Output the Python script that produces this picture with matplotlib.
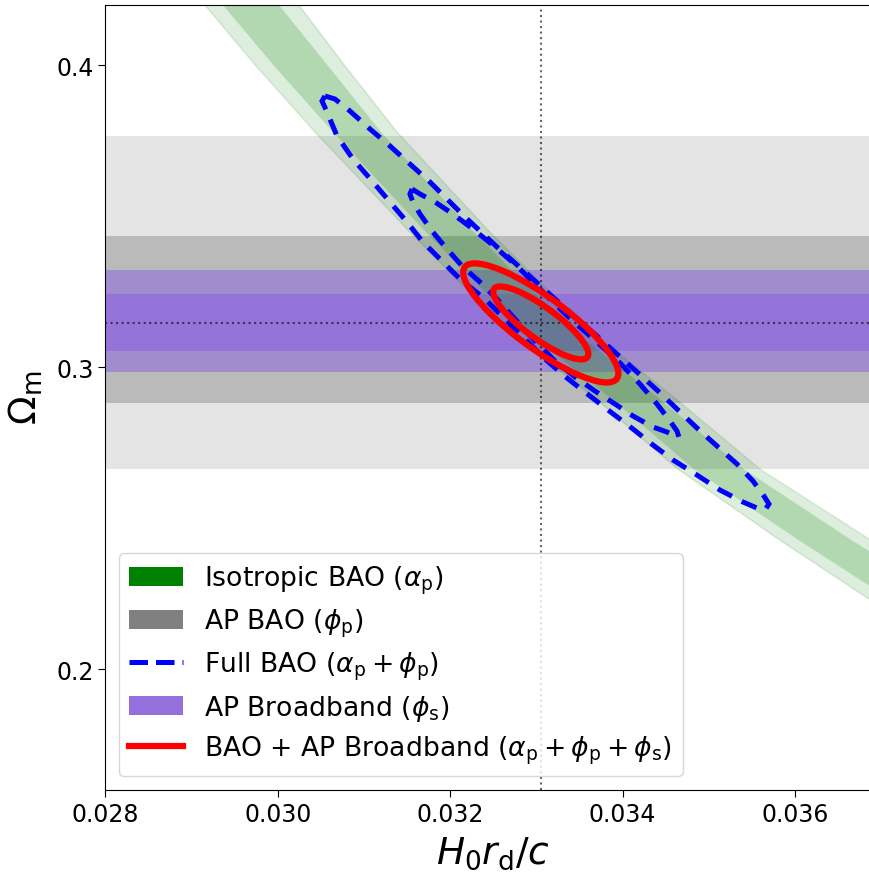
import numpy as np
import matplotlib
matplotlib.use("Agg")
import matplotlib.pyplot as plt
import matplotlib.transforms as transforms
from matplotlib.patches import Ellipse, Patch, Polygon
from matplotlib.lines import Line2D
from matplotlib.ticker import MultipleLocator

# fiducial cosmology
h0rd_fid = 0.03305
om_fid = 0.3146

# AP BAO (phi_p) and AP broadband (phi_s) constraints on Omega_m: (1 sigma, 2 sigma) ranges
ap_bao_1s = (0.2881, 0.3434)
ap_bao_2s = (0.2662, 0.3765)
ap_bb_1s = (0.3053, 0.3242)
ap_bb_2s = (0.2983, 0.3321)

# isotropic BAO degeneracy band, edges in H0 rd / c at given Omega_m
iso_om = [0.4318, 0.4202, 0.3997, 0.3778, 0.3457, 0.3146, 0.2894, 0.2662, 0.2431, 0.2232]
iso_2s_lo = [0.028818, 0.029143, 0.029746, 0.030430, 0.031498, 0.032577, 0.033690, 0.034642, 0.035802, 0.036857]
iso_1s_lo = [0.029038, 0.029352, 0.029955, 0.030639, 0.031683, 0.032762, 0.033876, 0.034827, 0.036022, 0.037101]
iso_1s_hi = [0.029700, 0.030001, 0.030581, 0.031196, 0.032240, 0.033319, 0.034433, 0.035407, 0.036637, 0.037739]
iso_2s_hi = [0.029920, 0.030233, 0.030778, 0.031382, 0.032426, 0.033505, 0.034618, 0.035593, 0.036857, 0.037971]

# full BAO contours (alpha_p + phi_p)
full_2s_x = [0.030546, 0.030662, 0.030836, 0.031068, 0.031300, 0.031532, 0.031764, 0.031962, 0.032147,
             0.032345, 0.032542, 0.032751, 0.032983, 0.033215, 0.033447, 0.033702, 0.033934, 0.034166,
             0.034398, 0.034630, 0.034862, 0.035094, 0.035326, 0.035512, 0.035639, 0.035697, 0.035651,
             0.035558, 0.035396, 0.035129, 0.034862, 0.034584, 0.034352, 0.034120, 0.033876, 0.033621,
             0.033354, 0.033099, 0.032867, 0.032635, 0.032403, 0.032113, 0.031915, 0.031683, 0.031498,
             0.031300, 0.031103, 0.030871, 0.030686, 0.030570, 0.030512]
full_2s_y = [0.38974, 0.38874, 0.38477, 0.37881, 0.37318, 0.36722, 0.36126, 0.35563, 0.35033,
             0.34503, 0.33974, 0.33444, 0.32848, 0.32252, 0.31656, 0.31026, 0.30430, 0.29834,
             0.29238, 0.28609, 0.27980, 0.27384, 0.26788, 0.26225, 0.25728, 0.25464, 0.25265,
             0.25331, 0.25530, 0.25927, 0.26424, 0.26921, 0.27417, 0.27947, 0.28477, 0.29040,
             0.29636, 0.30265, 0.30927, 0.31589, 0.32252, 0.32914, 0.33477, 0.34139, 0.34801,
             0.35464, 0.36126, 0.36887, 0.37649, 0.38444, 0.38808]
full_1s_x = [0.031556, 0.031649, 0.031823, 0.032031, 0.032263, 0.032519, 0.032774, 0.032983, 0.033191,
             0.033423, 0.033702, 0.033969, 0.034201, 0.034398, 0.034549, 0.034630, 0.034653,
             0.034607, 0.034514, 0.034352, 0.034120, 0.033911, 0.033679, 0.033447, 0.033215,
             0.032983, 0.032751, 0.032542, 0.032345, 0.032147, 0.031962, 0.031788, 0.031649,
             0.031567, 0.031532]
full_1s_y = [0.35894, 0.35728, 0.35464, 0.35066, 0.34570, 0.33974, 0.33344, 0.32748, 0.32152,
             0.31523, 0.30828, 0.30132, 0.29437, 0.28775, 0.28212, 0.27881, 0.27682,
             0.27715, 0.27848, 0.28013, 0.28377, 0.28775, 0.29205, 0.29669, 0.30199,
             0.30861, 0.31589, 0.32252, 0.32815, 0.33311, 0.33907, 0.34503, 0.35066,
             0.35464, 0.35728]

# BAO + AP broadband: gaussian summary (mean, sigma, correlation)
comb_mean = (0.03305, 0.3146)
comb_sigma = (0.000363, 0.00795)
comb_rho = -0.85
comb_levels = [1.52, 2.48]  # sqrt of delta chi^2 for 68% / 95% in 2D

fig = plt.figure(figsize=(8.69, 8.78), dpi=100)
ax = fig.add_axes([0.1214, 0.0993, 0.8927, 0.8943])

ax.axhspan(*ap_bao_2s, color="gray", alpha=0.21, lw=0)
ax.axhspan(*ap_bao_1s, color="gray", alpha=0.41, lw=0)
ax.axhspan(*ap_bb_2s, color="mediumpurple", alpha=0.62, lw=0)
ax.axhspan(*ap_bb_1s, color="mediumpurple", alpha=0.85, lw=0)

ax.fill_betweenx(iso_om, iso_2s_lo, iso_2s_hi, color="green", alpha=0.13, lw=0)
ax.fill_betweenx(iso_om, iso_1s_lo, iso_1s_hi, color="green", alpha=0.2, lw=0)
ax.plot(iso_2s_lo, iso_om, color="green", alpha=0.12, lw=1.2)
ax.plot(iso_2s_hi, iso_om, color="green", alpha=0.12, lw=1.2)

ax.axvline(h0rd_fid, color="k", ls=":", lw=1.5, alpha=0.6, zorder=2)
ax.axhline(om_fid, color="k", ls=":", lw=1.5, alpha=0.6, zorder=2)

for cx, cy in [(full_1s_x, full_1s_y), (full_2s_x, full_2s_y)]:
    ax.add_patch(Polygon(np.column_stack([cx, cy]), closed=True, fill=False,
                         edgecolor="blue", lw=3.6, ls=(0, (3.2, 2.2)), zorder=3))

for n in comb_levels:
    ell = Ellipse((0, 0), width=2 * np.sqrt(1 + comb_rho), height=2 * np.sqrt(1 - comb_rho),
                  fill=False, edgecolor="red", lw=4.5, zorder=4)
    tr = (transforms.Affine2D().rotate_deg(45)
          .scale(n * comb_sigma[0], n * comb_sigma[1])
          .translate(*comb_mean))
    ell.set_transform(tr + ax.transData)
    ax.add_patch(ell)

ax.set_xlim(0.028, 0.037)
ax.set_ylim(0.16, 0.42)
ax.xaxis.set_major_locator(MultipleLocator(0.002))
ax.yaxis.set_major_locator(MultipleLocator(0.1))
ax.tick_params(labelsize=17, length=5)
ax.set_xlabel(r"$H_0r_\mathrm{d}/c$", fontsize=27, labelpad=6)
ax.set_ylabel(r"$\Omega_\mathrm{m}$", fontsize=27, labelpad=8)

handles = [
    Patch(facecolor="green", label=r"Isotropic BAO ($\alpha_\mathrm{p}$)"),
    Patch(facecolor="gray", label=r"AP BAO ($\phi_\mathrm{p}$)"),
    Line2D([], [], color="blue", ls="--", lw=3.6, label=r"Full BAO ($\alpha_\mathrm{p}+\phi_\mathrm{p}$)"),
    Patch(facecolor="mediumpurple", label=r"AP Broadband ($\phi_\mathrm{s}$)"),
    Line2D([], [], color="red", lw=4.5,
           label=r"BAO + AP Broadband ($\alpha_\mathrm{p}+\phi_\mathrm{p}+\phi_\mathrm{s}$)"),
]
ax.legend(handles=handles, loc="lower left", fontsize=19.2, labelspacing=0.4)

fig.savefig("out.png", dpi=100)
